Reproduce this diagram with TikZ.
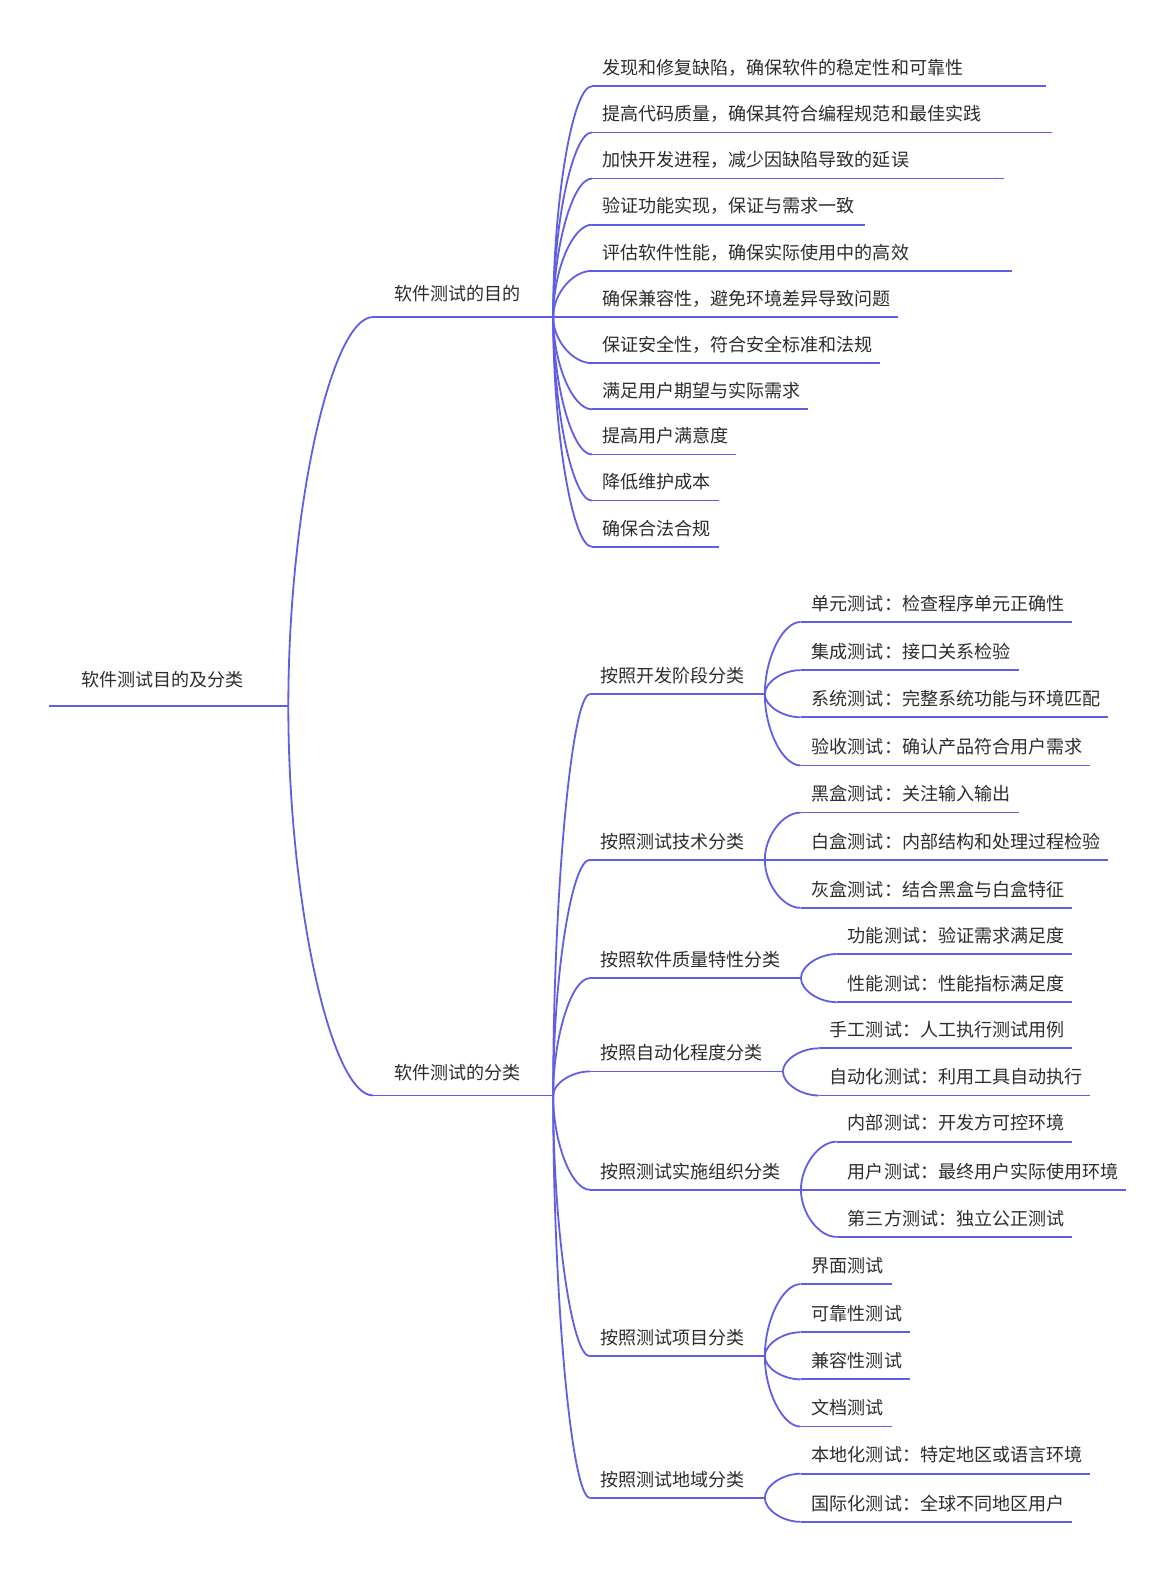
\documentclass[tikz,border=0pt]{standalone}
\usepackage{fontspec}
\newfontfamily\cjk{Noto Sans CJK SC}
\usetikzlibrary{calc}
\definecolor{mindblue}{RGB}{96,95,228}
\definecolor{mindtext}{RGB}{45,45,45}
\tikzset{
  stem/.style={draw=mindblue, line width=1.8pt},
  topic/.style={anchor=south west, inner xsep=11pt, inner ysep=6.5pt,
    text height=13pt, text depth=5pt, align=left, text=mindtext,
    font=\cjk\fontsize{18}{22}\selectfont,
    append after command={(\tikzlastnode.south west) edge[stem] (\tikzlastnode.south east)}},
  branch/.style={stem, to path={.. controls ($(\tikztostart)!.5!(\tikztostart|-\tikztotarget)$)
    and ($(\tikztotarget)!.5!(\tikztostart|-\tikztotarget)$) .. (\tikztotarget)}}
}
\begin{document}
\begin{tikzpicture}[x=1pt, y=-1pt]
		\fill[white] (0,0) rectangle (1172,1568);
		%%%%%%%%%%%%% root and main branches
		\node[topic, inner xsep=32pt, inner ysep=14pt, text width=174pt] (root) at (49,704) {软件测试目的及分类};
		\node[topic, inner xsep=21pt, inner ysep=11pt, text width=137pt] (a) at (372,316) {软件测试的目的};
		\node[topic, inner xsep=21pt, inner ysep=11pt, text width=137pt] (b) at (372,1092) {软件测试的分类};
		%%%%%%%%%%%%% purposes
		\node[topic, inner xsep=10pt, text width=432pt] (a1) at (590,86) {发现和修复缺陷，确保软件的稳定性和可靠性};
		\node[topic, inner xsep=10pt, text width=438pt] (a2) at (590,132) {提高代码质量，确保其符合编程规范和最佳实践};
		\node[topic, inner xsep=10pt, text width=390pt] (a3) at (590,178) {加快开发进程，减少因缺陷导致的延误};
		\node[topic, inner xsep=10pt, text width=252pt] (a4) at (590,224) {验证功能实现，保证与需求一致};
		\node[topic, inner xsep=10pt, text width=398pt] (a5) at (590,270) {评估软件性能，确保实际使用中的高效};
		\node[topic, inner xsep=10pt, text width=285pt] (a6) at (590,316) {确保兼容性，避免环境差异导致问题};
		\node[topic, inner xsep=10pt, text width=267pt] (a7) at (590,362) {保证安全性，符合安全标准和法规};
		\node[topic, inner xsep=10pt, text width=195pt] (a8) at (590,408) {满足用户期望与实际需求};
		\node[topic, inner xsep=10pt, text width=123pt] (a9) at (590,453) {提高用户满意度};
		\node[topic, inner xsep=10pt, text width=106pt] (a10) at (590,499) {降低维护成本};
		\node[topic, inner xsep=10pt, text width=106pt] (a11) at (590,545) {确保合法合规};
		%%%%%%%%%%%%% classifications
		\node[topic, inner xsep=10pt, text width=154pt] (b1) at (588,692) {按照开发阶段分类};
		\node[topic, inner xsep=10pt, text width=154pt] (b2) at (588,857) {按照测试技术分类};
		\node[topic, inner xsep=10pt, text width=190pt] (b3) at (588,975) {按照软件质量特性分类};
		\node[topic, inner xsep=10pt, text width=172pt] (b4) at (588,1068) {按照自动化程度分类};
		\node[topic, inner xsep=10pt, text width=190pt] (b5) at (588,1186) {按照测试实施组织分类};
		\node[topic, inner xsep=10pt, text width=154pt] (b6) at (588,1352) {按照测试项目分类};
		\node[topic, inner xsep=10pt, text width=154pt] (b7) at (588,1493) {按照测试地域分类};
		%%%%%%%%%%%%% leaves
		\node[topic, text width=248pt] (b1a) at (798,620) {单元测试：检查程序单元正确性};
		\node[topic, text width=195pt] (b1b) at (798,668) {集成测试：接口关系检验};
		\node[topic, text width=284pt] (b1c) at (798,715) {系统测试：完整系统功能与环境匹配};
		\node[topic, text width=266pt] (b1d) at (798,763) {验收测试：确认产品符合用户需求};
		\node[topic, text width=195pt] (b2a) at (798,810) {黑盒测试：关注输入输出};
		\node[topic, text width=284pt] (b2b) at (798,857) {白盒测试：内部结构和处理过程检验};
		\node[topic, text width=248pt] (b2c) at (798,905) {灰盒测试：结合黑盒与白盒特征};
		\node[topic, text width=212pt] (b3a) at (834,951) {功能测试：验证需求满足度};
		\node[topic, text width=212pt] (b3b) at (834,999) {性能测试：性能指标满足度};
		\node[topic, text width=230pt] (b4a) at (816,1045) {手工测试：人工执行测试用例};
		\node[topic, text width=248pt] (b4b) at (816,1092) {自动化测试：利用工具自动执行};
		\node[topic, text width=212pt] (b5a) at (834,1138) {内部测试：开发方可控环境};
		\node[topic, text width=266pt] (b5b) at (834,1186) {用户测试：最终用户实际使用环境};
		\node[topic, text width=212pt] (b5c) at (834,1233) {第三方测试：独立公正测试};
		\node[topic, text width=69pt] (b6a) at (798,1280) {界面测试};
		\node[topic, text width=87pt] (b6b) at (798,1328) {可靠性测试};
		\node[topic, text width=87pt] (b6c) at (798,1375) {兼容性测试};
		\node[topic, text width=69pt] (b6d) at (798,1422) {文档测试};
		\node[topic, text width=266pt] (b7a) at (798,1469) {本地化测试：特定地区或语言环境};
		\node[topic, text width=248pt] (b7b) at (798,1517) {国际化测试：全球不同地区用户};
		%%%%%%%%%%%%% connectors
		\draw[branch] (root.south east) to (a.south west);
		\draw[branch] (root.south east) to (b.south west);
		\foreach \n in {1,...,11} \draw[branch] (a.south east) to (a\n.south west);
		\foreach \n in {1,...,7} \draw[branch] (b.south east) to (b\n.south west);
		\foreach \n in {a,b,c,d} \draw[branch] (b1.south east) to (b1\n.south west);
		\foreach \n in {a,b,c} \draw[branch] (b2.south east) to (b2\n.south west);
		\foreach \n in {a,b} \draw[branch] (b3.south east) to (b3\n.south west);
		\foreach \n in {a,b} \draw[branch] (b4.south east) to (b4\n.south west);
		\foreach \n in {a,b,c} \draw[branch] (b5.south east) to (b5\n.south west);
		\foreach \n in {a,b,c,d} \draw[branch] (b6.south east) to (b6\n.south west);
		\foreach \n in {a,b} \draw[branch] (b7.south east) to (b7\n.south west);
		%%%%%%%%%%%%%%
\end{tikzpicture}
\end{document}
